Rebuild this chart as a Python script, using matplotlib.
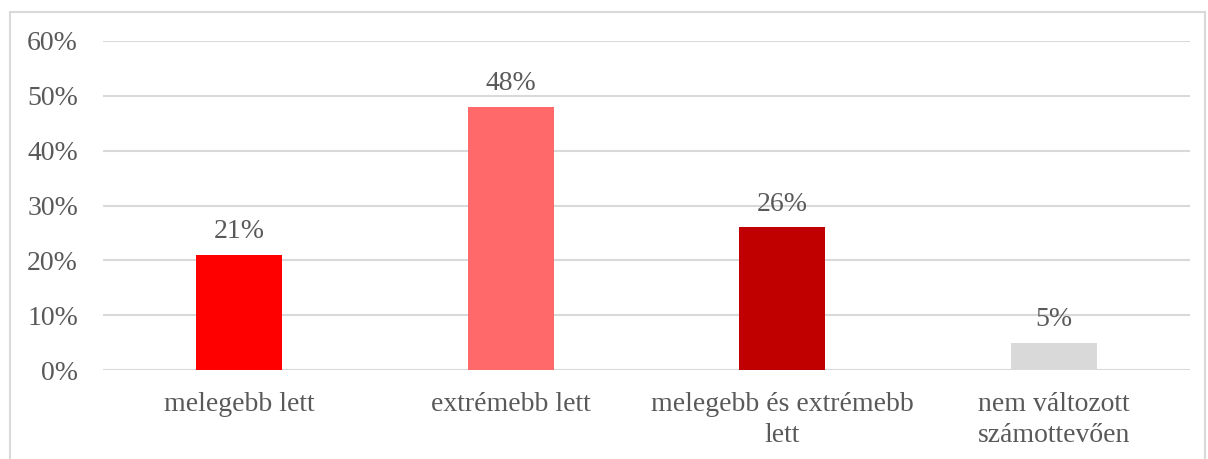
import matplotlib
matplotlib.use("Agg")
import matplotlib.pyplot as plt
from matplotlib.patches import Rectangle

categories = ["melegebb lett", "extrémebb lett", "melegebb és extrémebb\nlett", "nem változott\nszámottevően"]
values = [21, 48, 26, 5]
colors = ["#FF0000", "#FF6969", "#C00000", "#D9D9D9"]
yticks = [0, 10, 20, 30, 40, 50, 60]

plt.rcParams['font.family'] = ['Liberation Serif', 'DejaVu Serif']
txt = "#595959"

W, H = 1208, 459
fig = plt.figure(figsize=(W / 100, H / 100), dpi=100)

# outer chart frame
fig.add_artist(Rectangle((10 / W, -0.1), (1205 - 10) / W, (H - 12) / H + 0.1,
                         transform=fig.transFigure, fill=False, edgecolor="#D9D9D9", lw=1.5))

ax = fig.add_axes([103 / W, 1 - 370 / H, (1190 - 103) / W, (370 - 41) / H])
x = range(len(categories))
ax.bar(x, values, width=0.316, color=colors, zorder=3)
for i, v in enumerate(values):
    ax.text(i, v + 1.9, f"{v}%", ha="center", va="bottom", fontsize=20, color=txt)

ax.set_xlim(-0.5, len(categories) - 0.5)
ax.set_ylim(0, 60)
ax.set_yticks(yticks)
ax.set_yticklabels([f"{t}%" for t in yticks], fontsize=20, color=txt)
ax.set_xticks(list(x))
ax.set_xticklabels(categories, fontsize=20, color=txt, linespacing=1.3)
ax.tick_params(axis="x", length=0, pad=16)
ax.tick_params(axis="y", length=0, pad=18)
ax.grid(axis="y", color="#D9D9D9", lw=1.5, zorder=0)
for s in ax.spines.values():
    s.set_visible(False)

fig.savefig("out.png", dpi=100)
